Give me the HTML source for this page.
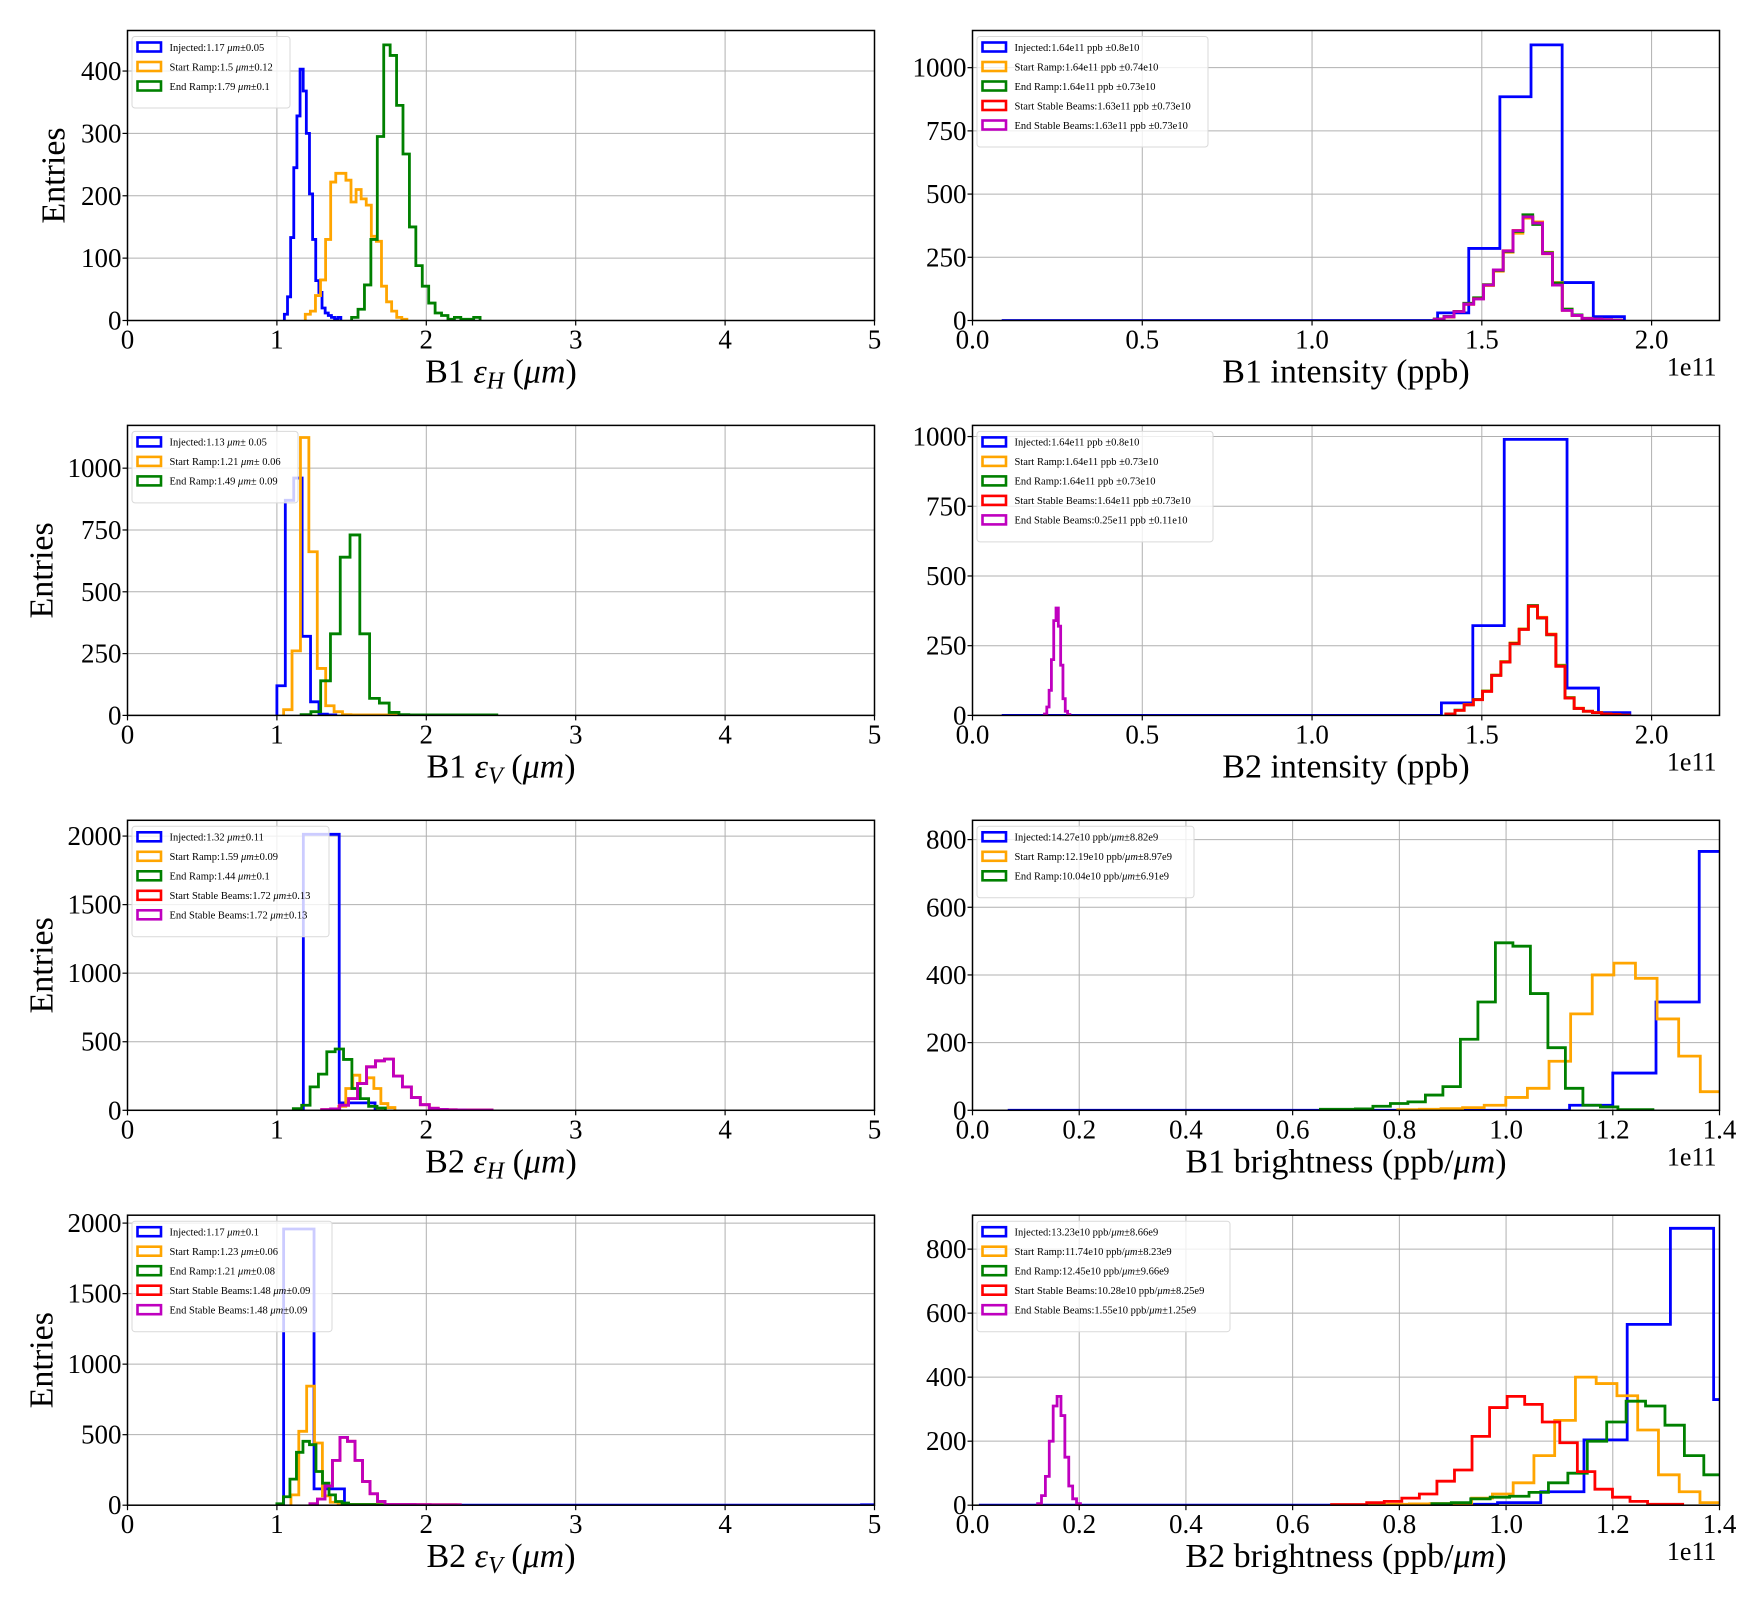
<!DOCTYPE html>
<html><head><meta charset="utf-8"><style>
html,body{margin:0;padding:0;background:#fff;}
svg{display:block;font-family:"Liberation Serif",serif;}
</style></head>
<body>
<svg id="fig" width="1760" height="1600" viewBox="0 0 1760 1600" xmlns="http://www.w3.org/2000/svg">
<rect width="1760" height="1600" fill="#fff"/>
</svg>
<script>
// ---------- Panel 1: B1 eps_H ----------
const p1BlueStart = 1.05, p1BlueWidth = 0.021;
const p1Blue = [10,38,133,245,328,403,368,300,203,130,64,45,20,12,8,5,2,5];
const p1OrangeStart = 1.19, p1OrangeWidth = 0.034;
const p1Orange = [10,15,40,65,130,222,236,236,225,190,210,195,185,135,127,55,30,15,5,2];
const p1GreenStart = 1.5, p1GreenWidth = 0.043;
const p1Green = [5,18,57,130,295,442,425,345,267,150,88,55,28,12,8,2,5,2,2,5];
const p1YTicks = [0,100,200,300,400];
const p1XTicks = [0,1,2,3,4,5];
const p1XTickLabels = ["0","1","2","3","4","5"];
const p1Legend = ["Injected:1.17 |μm|±0.05","Start Ramp:1.5 |μm|±0.12","End Ramp:1.79 |μm|±0.1"];

// ---------- Panel 2: B1 intensity ----------
const p2BlueStart = 0.086, p2BlueWidth = 0.0917;
const p2Blue = [0,0,0,0,0,0,0,0,0,0,0,0,0,0,30,285,885,1090,150,15];
const p2OthStart = 1.36, p2OthWidth = 0.029;
const p2Orange = [5,15,35,65,88,138,195,270,345,405,390,270,150,45,20,8,5,3,1];
const p2Green = [6,16,36,68,90,142,198,273,352,418,380,268,148,45,22,9,5,3,1];
const p2Red = [5,14,35,64,86,140,200,276,356,410,386,264,140,40,20,8,5,3,1];
const p2Magenta = [5,15,35,65,85,140,200,275,355,410,385,265,140,40,20,8,5,3,1];
const p2YTicks = [0,250,500,750,1000];
const p2XTicks = [0,0.5,1.0,1.5,2.0];
const p2XTickLabels = ["0.0","0.5","1.0","1.5","2.0"];
const p2Legend = ["Injected:1.64e11 ppb ±0.8e10","Start Ramp:1.64e11 ppb ±0.74e10","End Ramp:1.64e11 ppb ±0.73e10","Start Stable Beams:1.63e11 ppb ±0.73e10","End Stable Beams:1.63e11 ppb ±0.73e10"];

// ---------- Panel 3: B1 eps_V ----------
const p3BlueStart = 1.0, p3BlueWidth = 0.0563;
const p3Blue = [120,870,960,320,55,5,2];
const p3OrangeStart = 1.045, p3OrangeWidth = 0.0563;
const p3Orange = [23,261,1124,662,190,39,15,3,2,2,2,2,2,2];
const p3GreenStart = 1.162, p3GreenWidth = 0.0655;
const p3Green = [3,15,140,330,640,730,330,69,50,12,3,2,2,2,2,2,2,2,2,2];
const p3YTicks = [0,250,500,750,1000];
const p3Legend = ["Injected:1.13 |μm|± 0.05","Start Ramp:1.21 |μm|± 0.06","End Ramp:1.49 |μm|± 0.09"];

// ---------- Panel 4: B2 intensity ----------
const p4BlueStart = 0.086, p4BlueWidth = 0.0925;
const p4Blue = [0,0,0,0,0,0,0,0,0,0,0,0,0,0,45,322,990,990,98,10];
const p4OthStart = 1.394, p4OthWidth = 0.027;
const p4Orange = [5,18,39,57,88,145,193,260,310,390,352,292,180,64,26,15,10,5,3,1];
const p4Green = [5,19,38,57,87,144,192,258,309,394,349,289,178,63,25,15,10,5,3,1];
const p4Red = [5,18,38,56,86,143,191,257,308,392,350,290,176,62,25,15,10,5,3,1];
const p4MagStart = 0.212, p4MagWidth = 0.0068;
const p4Magenta = [5,30,90,200,340,385,320,180,60,15,3];
const p4Legend = ["Injected:1.64e11 ppb ±0.8e10","Start Ramp:1.64e11 ppb ±0.73e10","End Ramp:1.64e11 ppb ±0.73e10","Start Stable Beams:1.64e11 ppb ±0.73e10","End Stable Beams:0.25e11 ppb ±0.11e10"];

// ---------- Panel 5: B2 eps_H ----------
const p5BlueStart = 1.177, p5BlueWidth = 0.24;
const p5Blue = [2013,54];
const p5OrangeStart = 1.367, p5OrangeWidth = 0.047;
const p5Orange = [10,29,159,256,195,237,159,49,20];
const p5GreenStart = 1.11, p5GreenWidth = 0.056;
const p5Green = [12,37,171,264,427,447,371,159,85,29,17];
const p5MagStart = 1.30, p5MagWidth = 0.06;
const p5Red = [5,10,37,85,195,317,361,373,249,171,93,41,15,7,4,3,2,2,2];
const p5Magenta = [5,10,37,85,195,317,361,373,249,171,93,41,15,7,4,3,2,2,2];
const p5YTicks = [0,500,1000,1500,2000];
const p5Legend = ["Injected:1.32 |μm|±0.11","Start Ramp:1.59 |μm|±0.09","End Ramp:1.44 |μm|±0.1","Start Stable Beams:1.72 |μm|±0.13","End Stable Beams:1.72 |μm|±0.13"];

// ---------- Panel 6: B1 brightness ----------
const p6BlueStart = 0.066, p6BlueWidth = 0.081;
const p6Blue = [0,0,0,0,0,0,0,0,0,0,0,0,0,15,110,320,765];
const p6OrangeStart = 0.797, p6OrangeWidth = 0.0405;
const p6Orange = [2,3,5,8,15,38,65,145,285,400,435,390,270,160,55];
const p6GreenStart = 0.652, p6GreenWidth = 0.0328;
const p6Green = [3,3,4,12,20,25,45,70,210,320,495,485,345,185,65,15,10,2,2];
const p6YTicks = [0,200,400,600,800];
const p6XTicks = [0,0.2,0.4,0.6,0.8,1.0,1.2,1.4];
const p6XTickLabels = ["0.0","0.2","0.4","0.6","0.8","1.0","1.2","1.4"];
const p6Legend = ["Injected:14.27e10 ppb/|μm|±8.82e9","Start Ramp:12.19e10 ppb/|μm|±8.97e9","End Ramp:10.04e10 ppb/|μm|±6.91e9"];

// ---------- Panel 7: B2 eps_V ----------
const p7BlueStart = 1.045, p7BlueWidth = 0.2036;
const p7Blue = [1958,116,0,0,0,0,0,0,0,0,0,0,0,0,0,0,0,0,0,3];
const p7OrangeStart = 1.094, p7OrangeWidth = 0.0526;
const p7Orange = [73,524,844,441,66,21,8,5,5,5,5,4,4,3,3,3,3,3,3,3,3];
const p7GreenStart = 1.0, p7GreenWidth = 0.0436;
const p7Green = [10,60,185,375,453,429,239,156,73,26,15,5,5,5,5,3,2];
const p7MagStart = 1.221, p7MagWidth = 0.0503;
const p7Red = [10,43,137,318,481,453,318,168,81,26,5,5,5,5,4,4,3,3,3,3];
const p7Magenta = [10,43,137,318,481,453,318,168,81,26,5,5,5,5,4,4,3,3,3,3];
const p7Legend = ["Injected:1.17 |μm|±0.1","Start Ramp:1.23 |μm|±0.06","End Ramp:1.21 |μm|±0.08","Start Stable Beams:1.48 |μm|±0.09","End Stable Beams:1.48 |μm|±0.09"];

// ---------- Panel 8: B2 brightness ----------
const p8BlueStart = 0.012, p8BlueWidth = 0.081;
const p8Blue = [0,0,0,0,0,0,0,0,0,0,0,3,8,42,204,565,865,330];
const p8OrangeStart = 0.741, p8OrangeWidth = 0.0389;
const p8Orange = [2,3,4,5,6,22,35,70,155,265,400,380,342,235,95,42,8];
const p8GreenStart = 0.861, p8GreenWidth = 0.0364;
const p8Green = [5,8,20,25,28,40,70,100,200,260,325,310,250,155,95,95];
const p8RedStart = 0.673, p8RedWidth = 0.0329;
const p8Red = [2,2,8,12,22,35,75,110,215,305,340,315,260,195,105,50,25,12,3,3];
const p8MagStart = 0.122, p8MagWidth = 0.0073;
const p8Magenta = [5,30,90,200,310,340,280,150,60,20,5];
const p8Legend = ["Injected:13.23e10 ppb/|μm|±8.66e9","Start Ramp:11.74e10 ppb/|μm|±8.23e9","End Ramp:12.45e10 ppb/|μm|±9.66e9","Start Stable Beams:10.28e10 ppb/|μm|±8.25e9","End Stable Beams:1.55e10 ppb/|μm|±1.25e9"];

const COLORS = {blue:"#0000ff", orange:"#ffa500", green:"#008000", red:"#ff0000", magenta:"#bf00bf"};
const NS = "http://www.w3.org/2000/svg";
const svg = document.getElementById("fig");
function mk(tag, attrs, parent){
  const e = document.createElementNS(NS, tag);
  for (const k in attrs) e.setAttribute(k, attrs[k]);
  (parent||svg).appendChild(e);
  return e;
}

const panels = [
  {id:"b1-eps-h", col:0,row:0, xmax:5, ymax:465, xt:p1XTicks, xtl:p1XTickLabels, yt:p1YTicks, label:[["B1 ",0],["ε",1],["H",2],[" (",0],["μm",1],[")",0]], ylabel:true, ylabOff:74, offset:false, legend:p1Legend, legW:158,
   series:[["blue",p1BlueStart,p1BlueWidth,p1Blue],["orange",p1OrangeStart,p1OrangeWidth,p1Orange],["green",p1GreenStart,p1GreenWidth,p1Green]]},
  {id:"b1-intensity", col:1,row:0, xmax:2.2, ymax:1147, xt:p2XTicks, xtl:p2XTickLabels, yt:p2YTicks, label:[["B1 intensity (ppb)",0]], ylabel:false, offset:true, legend:p2Legend, legW:231,
   series:[["blue",p2BlueStart,p2BlueWidth,p2Blue],["orange",p2OthStart,p2OthWidth,p2Orange],["green",p2OthStart,p2OthWidth,p2Green],["red",p2OthStart,p2OthWidth,p2Red],["magenta",p2OthStart,p2OthWidth,p2Magenta]]},
  {id:"b1-eps-v", col:0,row:1, xmax:5, ymax:1173, xt:p1XTicks, xtl:p1XTickLabels, yt:p3YTicks, label:[["B1 ",0],["ε",1],["V",2],[" (",0],["μm",1],[")",0]], ylabel:true, ylabOff:86, offset:false, legend:p3Legend, legW:166,
   series:[["blue",p3BlueStart,p3BlueWidth,p3Blue],["orange",p3OrangeStart,p3OrangeWidth,p3Orange],["green",p3GreenStart,p3GreenWidth,p3Green]]},
  {id:"b2-intensity", col:1,row:1, xmax:2.2, ymax:1040, xt:p2XTicks, xtl:p2XTickLabels, yt:p2YTicks, label:[["B2 intensity (ppb)",0]], ylabel:false, offset:true, legend:p4Legend, legW:236,
   series:[["blue",p4BlueStart,p4BlueWidth,p4Blue],["orange",p4OthStart,p4OthWidth,p4Orange],["green",p4OthStart,p4OthWidth,p4Green],["red",p4OthStart,p4OthWidth,p4Red],["magenta",p4MagStart,p4MagWidth,p4Magenta]]},
  {id:"b2-eps-h", col:0,row:2, xmax:5, ymax:2115, xt:p1XTicks, xtl:p1XTickLabels, yt:p5YTicks, label:[["B2 ",0],["ε",1],["H",2],[" (",0],["μm",1],[")",0]], ylabel:true, ylabOff:86, offset:false, legend:p5Legend, legW:197,
   series:[["blue",p5BlueStart,p5BlueWidth,p5Blue],["orange",p5OrangeStart,p5OrangeWidth,p5Orange],["green",p5GreenStart,p5GreenWidth,p5Green],["red",p5MagStart,p5MagWidth,p5Red],["magenta",p5MagStart,p5MagWidth,p5Magenta]]},
  {id:"b1-brightness", col:1,row:2, xmax:1.4, ymax:857, xt:p6XTicks, xtl:p6XTickLabels, yt:p6YTicks, label:[["B1 brightness (ppb/",0],["μm",1],[")",0]], ylabel:false, offset:true, legend:p6Legend, legW:217,
   series:[["blue",p6BlueStart,p6BlueWidth,p6Blue],["orange",p6OrangeStart,p6OrangeWidth,p6Orange],["green",p6GreenStart,p6GreenWidth,p6Green]]},
  {id:"b2-eps-v", col:0,row:3, xmax:5, ymax:2056, xt:p1XTicks, xtl:p1XTickLabels, yt:p5YTicks, label:[["B2 ",0],["ε",1],["V",2],[" (",0],["μm",1],[")",0]], ylabel:true, ylabOff:86, offset:false, legend:p7Legend, legW:200,
   series:[["blue",p7BlueStart,p7BlueWidth,p7Blue],["orange",p7OrangeStart,p7OrangeWidth,p7Orange],["green",p7GreenStart,p7GreenWidth,p7Green],["red",p7MagStart,p7MagWidth,p7Red],["magenta",p7MagStart,p7MagWidth,p7Magenta]]},
  {id:"b2-brightness", col:1,row:3, xmax:1.4, ymax:906, xt:p6XTicks, xtl:p6XTickLabels, yt:p6YTicks, label:[["B2 brightness (ppb/",0],["μm",1],[")",0]], ylabel:false, offset:true, legend:p8Legend, legW:253,
   series:[["blue",p8BlueStart,p8BlueWidth,p8Blue],["orange",p8OrangeStart,p8OrangeWidth,p8Orange],["green",p8GreenStart,p8GreenWidth,p8Green],["red",p8RedStart,p8RedWidth,p8Red],["magenta",p8MagStart,p8MagWidth,p8Magenta]]}
];
const legendNames = ["injected","start-ramp","end-ramp","start-stable-beams","end-stable-beams"];

panels.forEach((p) => {
  const x0 = p.col === 0 ? 127.5 : 972.5;
  const y0 = 30.5 + p.row * 394.9;
  const W = 747, H = 290;
  const sx = v => x0 + v / p.xmax * W;
  const sy = v => y0 + H - v / p.ymax * H;
  const g = mk("g", {});
  
  
  const cp = mk("clipPath", {id:"clip-" + p.id}, g);
  mk("rect", {x:x0, y:y0, width:W, height:H}, cp);
  const grid = mk("g", {stroke:"#b0b0b0", "stroke-width":1}, g);
  
  
  p.xt.forEach(v => { mk("line", {x1:sx(v), x2:sx(v), y1:y0, y2:y0+H}, grid); });
  p.yt.forEach(v => { mk("line", {x1:x0, x2:x0+W, y1:sy(v), y2:sy(v)}, grid); });
  const sg = mk("g", {"clip-path":"url(#clip-" + p.id + ")", fill:"none", "stroke-width":2.8, "stroke-linejoin":"miter"}, g);
  p.series.forEach(s => {
    const [color, start, width, counts] = s;
    let d = "M" + sx(start).toFixed(2) + "," + sy(0).toFixed(2);
    counts.forEach((c, i) => {
      const a = start + i * width, b = a + width;
      d += " L" + sx(a).toFixed(2) + "," + sy(c).toFixed(2) + " L" + sx(b).toFixed(2) + "," + sy(c).toFixed(2);
    });
    d += " L" + sx(start + counts.length * width).toFixed(2) + "," + sy(0).toFixed(2);
    const path = mk("path", {d:d, stroke:COLORS[color]}, sg);
    
    
  });
  const frame = mk("rect", {x:x0, y:y0, width:W, height:H, fill:"none", stroke:"#000", "stroke-width":1.5}, g);
  
  
  const tg = mk("g", {stroke:"#000", "stroke-width":1.2}, g);
  p.xt.forEach(v => { mk("line", {x1:sx(v), x2:sx(v), y1:y0+H, y2:y0+H+5}, tg); });
  p.yt.forEach(v => { mk("line", {x1:x0-5, x2:x0, y1:sy(v), y2:sy(v)}, tg); });
  p.xt.forEach((v, i) => {
    const t = mk("text", {x:sx(v), y:y0+H+28, "font-size":27, "text-anchor":"middle", fill:"#000"}, g);
    t.textContent = p.xtl[i];
    
    
  });
  p.yt.forEach(v => {
    const t = mk("text", {x:x0-6, y:sy(v)+9, "font-size":27, "text-anchor":"end", fill:"#000"}, g);
    t.textContent = String(v);
    
    
  });
  const xl = mk("text", {x:x0+W/2, y:y0+H+62, "font-size":34, "text-anchor":"middle", fill:"#000"}, g);
  
  
  p.label.forEach(part => {
    const ts = mk("tspan", {}, xl);
    ts.textContent = part[0];
    if (part[1] >= 1) ts.setAttribute("font-style", "italic");
    if (part[1] === 2) { ts.setAttribute("font-size", "24"); ts.setAttribute("dy", "6"); }
    else if (ts.previousSibling && ts.previousSibling.getAttribute && ts.previousSibling.getAttribute("font-size") === "24") ts.setAttribute("dy", "-6");
  });
  if (p.ylabel) {
    const yl = mk("text", {x:0, y:0, "font-size":34, "text-anchor":"middle", fill:"#000", transform:"translate(" + (x0-p.ylabOff+11) + "," + (y0+H/2) + ") rotate(-90)"}, g);
    yl.textContent = "Entries";
    
    
  }
  if (p.offset) {
    const ot = mk("text", {x:x0+W-3, y:y0+H+55, "font-size":26, "text-anchor":"end", fill:"#000"}, g);
    ot.textContent = "1e11";
    
    
  }
  const n = p.legend.length;
  const lg = mk("g", {}, g);
  
  
  mk("rect", {x:x0+4.5, y:y0+6, width:p.legW, height:13+n*19.5, rx:3, fill:"#fff", "fill-opacity":0.8, stroke:"#d9d9d9", "stroke-width":1}, lg);
  p.legend.forEach((txt, i) => {
    const cy = y0 + 16.5 + i * 19.5;
    const color = p.series[i][0];
    const entry = mk("g", {}, lg);
    
    
    mk("rect", {x:x0+10, y:cy-4.5, width:23.5, height:9, fill:"none", stroke:COLORS[color], "stroke-width":2.6}, entry);
    const t = mk("text", {x:x0+42, y:cy+3.8, "font-size":10.5, fill:"#000"}, entry);
    txt.split("|").forEach((part, k) => {
      const ts = mk("tspan", {}, t);
      ts.textContent = part;
      if (k % 2 === 1) ts.setAttribute("font-style", "italic");
    });
  });
});
</script>
</body></html>
